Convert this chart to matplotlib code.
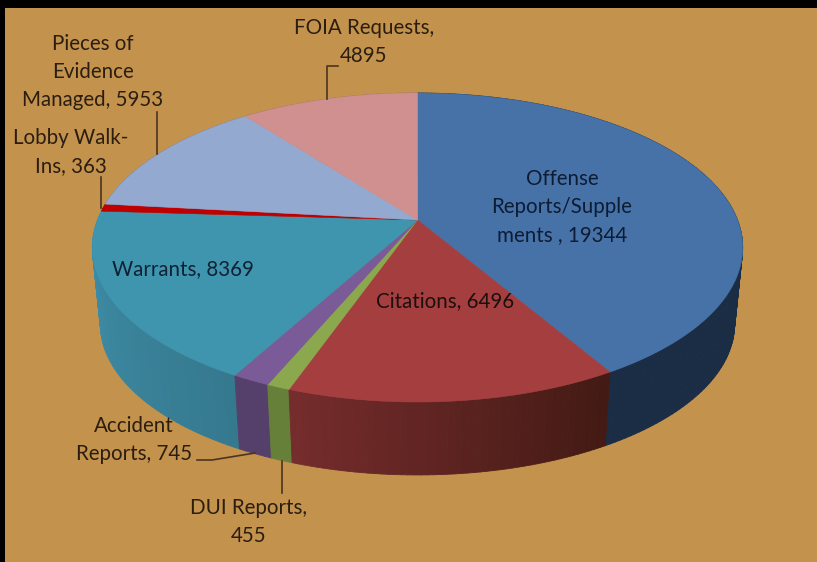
import numpy as np
import matplotlib
matplotlib.use('Agg')
import matplotlib.pyplot as plt
from matplotlib.collections import PolyCollection
from matplotlib.colors import to_rgb
from matplotlib.patches import Polygon, Rectangle

plt.rcParams['font.family'] = ['Lato', 'DejaVu Sans']

categories = ['Offense Reports/Supplements', 'Citations', 'DUI Reports', 'Accident Reports',
              'Warrants', 'Lobby Walk-Ins', 'Pieces of Evidence Managed', 'FOIA Requests']
values = [19344, 6496, 455, 745, 8369, 363, 5953, 4895]

top_colors = ['#4672A8', '#A53F3F', '#8BA84E', '#7A5A97', '#3F94AE', '#C00000', '#93A9D0', '#D09090']
# wall colour at the start and at the end of each slice (clockwise)
wall_start = ['#1A2D45', '#431A14', '#66803A', '#55406B', '#35798F', '#8A0000', '#6A7A96', '#966868']
wall_end = ['#1A2D45', '#752C2C', '#66803A', '#55406B', '#3F92AD', '#8A0000', '#6A7A96', '#966868']

# perspective of the disc, in pixels
cx, cy = 417.5, 220
rx, ry, k = 320, 149.6, 0.178
depth, shrink = 77.5, 0.975


def project(theta, bottom=False):
    u, v = np.sin(theta), -np.cos(theta)
    s = shrink if bottom else 1.0
    d = depth if bottom else 0.0
    return np.column_stack((cx + s * rx * u / (1 - k * v), cy + d + s * ry * v / (1 - k * v)))


fig = plt.figure(figsize=(8.17, 5.62), dpi=100, facecolor='black')
ax = fig.add_axes([0, 0, 1, 1])
ax.set_xlim(0, 817)
ax.set_ylim(562, 0)
ax.axis('off')
ax.add_patch(Rectangle((5, 8), 812, 554, facecolor='#C3924D', edgecolor='none', zorder=0))

edges = np.concatenate(([0], np.cumsum(values))) / sum(values) * 2 * np.pi

# side walls
quads, quad_colors, quad_order = [], [], []
for i in range(len(values)):
    n = max(2, int(np.degrees(edges[i + 1] - edges[i])) + 1)
    th = np.linspace(edges[i], edges[i + 1], n)
    up, low = project(th), project(th, True)
    c0, c1 = np.array(to_rgb(wall_start[i])), np.array(to_rgb(wall_end[i]))
    for j in range(n - 1):
        quads.append([up[j], up[j + 1], low[j + 1], low[j]])
        quad_colors.append(c0 + (c1 - c0) * j / (n - 2 if n > 2 else 1))
        quad_order.append(-np.cos(th[j]))
order = np.argsort(quad_order)
ax.add_collection(PolyCollection([quads[o] for o in order],
                                 facecolors=[quad_colors[o] for o in order],
                                 edgecolors=[quad_colors[o] for o in order],
                                 linewidths=0.6, zorder=2))

# top faces
for i in range(len(values)):
    n = max(2, int(np.degrees(edges[i + 1] - edges[i])) + 1)
    arc = project(np.linspace(edges[i], edges[i + 1], n))
    ax.add_patch(Polygon(np.vstack(([cx, cy], arc)), closed=True, facecolor=top_colors[i],
                         edgecolor=top_colors[i], linewidth=0.4, zorder=3))

# leader lines
line_color = '#4A3520'
leaders = [([327, 327, 338], [99, 66, 66]),
           ([157, 157], [112, 154]),
           ([101, 101], [177, 208]),
           ([197, 212, 255], [460, 460, 453]),
           ([282, 282], [461, 493])]
for xs, ys in leaders:
    ax.plot(xs, ys, color=line_color, linewidth=1.2, zorder=4)

# labels
tan_text = '#2B1E10'
labels = [(562, 207, 'Offense\nReports/Supple\nments , 19344', '#0E1C33'),
          (445, 301, 'Citations, 6496', '#1C0F0F'),
          (183, 269, 'Warrants, 8369', '#0E2233'),
          (93, 72, 'Pieces of\nEvidence\nManaged, 5953', tan_text),
          (71, 152, 'Lobby Walk-\nIns, 363', tan_text),
          (364, 42, 'FOIA Requests,\n4895', tan_text),
          (134, 440, 'Accident\nReports, 745', tan_text),
          (249, 522, 'DUI Reports,\n455', tan_text)]
for x, y, txt, col in labels:
    ax.text(x, y, txt, ha='center', va='center', fontsize=14.8, color=col,
            linespacing=1.48, zorder=5)

fig.savefig('out.png', dpi=100, facecolor=fig.get_facecolor())
